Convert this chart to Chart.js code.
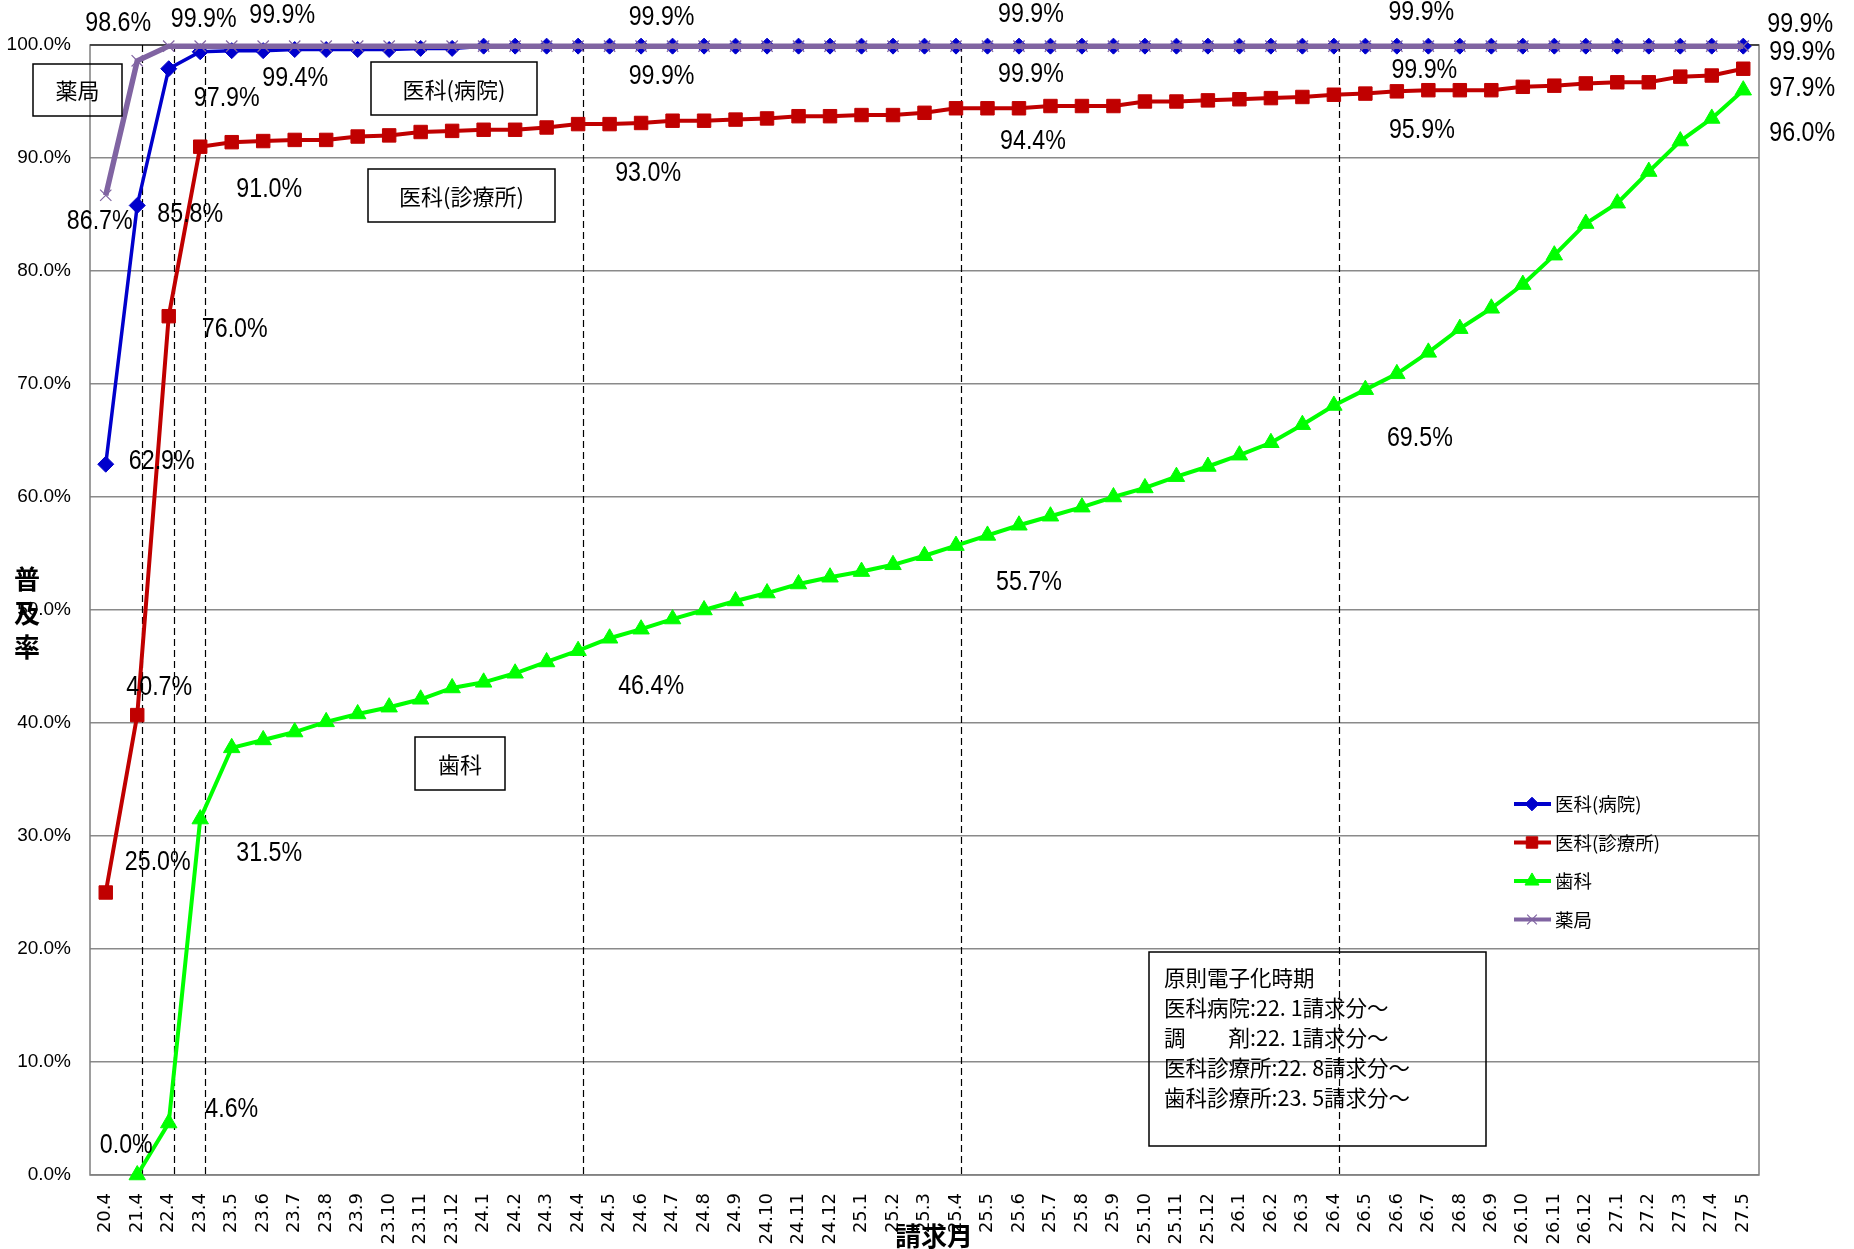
<!DOCTYPE html>
<html lang="ja">
<head>
<meta charset="UTF-8">
<title>レセプト電子化 普及率</title>
<script src="https://cdn.jsdelivr.net/npm/chart.js"></script>
<style>
  html, body { margin: 0; padding: 0; background: #fff; }
  #wrap { width: 1854px; height: 1249px; }
</style>
</head>
<body>
<div id="wrap"><canvas id="rateChart" width="1854" height="1249"></canvas></div>

<script>
// 請求月
const months = ['20.4', '21.4', '22.4', '23.4', '23.5', '23.6', '23.7', '23.8', '23.9', '23.10', '23.11', '23.12',
  '24.1', '24.2', '24.3', '24.4', '24.5', '24.6', '24.7', '24.8', '24.9', '24.10', '24.11', '24.12',
  '25.1', '25.2', '25.3', '25.4', '25.5', '25.6', '25.7', '25.8', '25.9', '25.10', '25.11', '25.12',
  '26.1', '26.2', '26.3', '26.4', '26.5', '26.6', '26.7', '26.8', '26.9', '26.10', '26.11', '26.12',
  '27.1', '27.2', '27.3', '27.4', '27.5'];

// 普及率（%）
const hospital = [62.9, 85.8, 97.9, 99.4, 99.5, 99.5, 99.6, 99.6, 99.6, 99.6, 99.7, 99.7,
  99.9, 99.9, 99.9, 99.9, 99.9, 99.9, 99.9, 99.9, 99.9, 99.9, 99.9, 99.9,
  99.9, 99.9, 99.9, 99.9, 99.9, 99.9, 99.9, 99.9, 99.9, 99.9, 99.9, 99.9,
  99.9, 99.9, 99.9, 99.9, 99.9, 99.9, 99.9, 99.9, 99.9, 99.9, 99.9, 99.9,
  99.9, 99.9, 99.9, 99.9, 99.9];
const clinic = [25.0, 40.7, 76.0, 91.0, 91.4, 91.5, 91.6, 91.6, 91.9, 92.0, 92.3, 92.4,
  92.5, 92.5, 92.7, 93.0, 93.0, 93.1, 93.3, 93.3, 93.4, 93.5, 93.7, 93.7,
  93.8, 93.8, 94.0, 94.4, 94.4, 94.4, 94.6, 94.6, 94.6, 95.0, 95.0, 95.1,
  95.2, 95.3, 95.4, 95.6, 95.7, 95.9, 96.0, 96.0, 96.0, 96.3, 96.4, 96.6,
  96.7, 96.7, 97.2, 97.3, 97.9];
const dental = [null, 0.0, 4.6, 31.5, 37.8, 38.5, 39.2, 40.1, 40.8, 41.4, 42.1, 43.1,
  43.6, 44.4, 45.4, 46.4, 47.5, 48.3, 49.2, 50.0, 50.8, 51.5, 52.3, 52.9,
  53.4, 54.0, 54.8, 55.7, 56.6, 57.5, 58.3, 59.1, 60.0, 60.8, 61.8, 62.7,
  63.7, 64.8, 66.4, 68.1, 69.5, 70.9, 72.8, 74.9, 76.7, 78.8, 81.4, 84.2,
  86.0, 88.8, 91.5, 93.5, 96.0];
const pharmacy = [86.7, 98.6, 99.9, 99.9, 99.9, 99.9, 99.9, 99.9, 99.9, 99.9, 99.9, 99.9,
  99.9, 99.9, 99.9, 99.9, 99.9, 99.9, 99.9, 99.9, 99.9, 99.9, 99.9, 99.9,
  99.9, 99.9, 99.9, 99.9, 99.9, 99.9, 99.9, 99.9, 99.9, 99.9, 99.9, 99.9,
  99.9, 99.9, 99.9, 99.9, 99.9, 99.9, 99.9, 99.9, 99.9, 99.9, 99.9, 99.9,
  99.9, 99.9, 99.9, 99.9, 99.9];

// グラフ上の数値ラベル
const hospitalTags = ['62.9%', '85.8%', '97.9%', '99.4%', '99.9%', '99.9%', '99.9%', '99.9%'];
const clinicTags = ['25.0%', '40.7%', '76.0%', '91.0%', '93.0%', '94.4%', '95.9%', '97.9%'];
const dentalTags = ['0.0%', '4.6%', '31.5%', '46.4%', '55.7%', '69.5%', '96.0%'];
const pharmacyTags = ['86.7%', '98.6%', '99.9%', '99.9%', '99.9%', '99.9%', '99.9%', '99.9%'];

// 点線を引く月
const markMonths = ['21.4', '22.4', '23.4', '24.4', '25.4', '26.4'];

const numFont = "'Liberation Sans', sans-serif";
const jpFont = "'Noto Sans CJK JP', sans-serif";

// 横に詰めた文字
function narrowText(ctx, t, x, y, sx) {
    ctx.save();
    ctx.translate(x, y);
    ctx.scale(sx, 1);
    ctx.fillText(t, 0, 0);
    ctx.restore();
}

// 点線・ラベル・凡例など
const extras = {
    id: 'extras',
    beforeDatasetsDraw(chart) {
        const { ctx, chartArea: a, scales: { x } } = chart;
        ctx.save();
        ctx.strokeStyle = '#7f7f7f';
        ctx.lineWidth = 1.5;
        ctx.strokeRect(a.left, a.top, a.right - a.left, a.bottom - a.top);
        ctx.strokeStyle = '#333';
        ctx.beginPath();
        ctx.moveTo(a.left, a.top);
        ctx.lineTo(a.right, a.top);
        ctx.stroke();
        ctx.strokeStyle = '#000';
        ctx.lineWidth = 1.2;
        ctx.setLineDash([7, 4]);
        markMonths.forEach(m => {
            const px = Math.round(x.getPixelForValue(months.indexOf(m))) + 5.5;
            ctx.beginPath();
            ctx.moveTo(px, a.top);
            ctx.lineTo(px, a.bottom);
            ctx.stroke();
        });
        ctx.restore();
    },
    afterDatasetsDraw(chart) {
        const ctx = chart.ctx;
        ctx.save();

        // 数値ラベル [点, dx, dy]
        const tagSets = [
            { ds: 0, tags: hospitalTags, spots: [[0, 56, -3], [1, 53, 9], [2, 58, 30], [5, 32, 28], [18, -11, 30], [29, 12, 28], [42, -4, 24], [52, 59, 6]] },
            { ds: 1, tags: clinicTags, spots: [[0, 52, -30], [1, 22, -28], [2, 66, 13], [3, 69, 43], [15, 70, 49], [27, 77, 33], [39, 88, 36], [52, 59, 20]] },
            { ds: 2, tags: dentalTags, spots: [[1, -11, -29], [2, 63, -13], [3, 69, 34], [15, 73, 36], [27, 73, 37], [39, 86, 33], [52, 59, 43]] },
            { ds: 3, tags: pharmacyTags, spots: [[0, -6, 26], [1, -19, -37], [2, 35, -27], [5, 19, -31], [18, -11, -29], [29, 12, -32], [42, -7, -34], [52, 57, -22]] }
        ];
        ctx.fillStyle = '#000';
        ctx.font = '27px ' + numFont;
        ctx.textAlign = 'center';
        ctx.textBaseline = 'middle';
        tagSets.forEach(s => {
            const meta = chart.getDatasetMeta(s.ds);
            s.spots.forEach(([i, dx, dy], k) => {
                const p = meta.data[i];
                narrowText(ctx, s.tags[k], p.x + dx, p.y + dy, 0.86);
            });
        });

        // 系列名の枠
        const boxes = [
            ['薬局', 33, 64, 89, 52],
            ['医科(病院)', 371, 62, 166, 53],
            ['医科(診療所)', 368, 169, 187, 53],
            ['歯科', 415, 737, 90, 53]
        ];
        ctx.strokeStyle = '#000';
        ctx.lineWidth = 1.5;
        ctx.font = '22px ' + jpFont;
        boxes.forEach(([t, bx, by, bw, bh]) => {
            ctx.strokeRect(bx, by, bw, bh);
            ctx.fillText(t, bx + bw / 2, by + bh / 2 + 1);
        });

        // 原則電子化時期
        ctx.strokeRect(1149, 952, 337, 194);
        ctx.textAlign = 'left';
        ctx.font = '21.5px ' + jpFont;
        ['原則電子化時期', '医科病院:22. 1請求分～', '調　　剤:22. 1請求分～',
         '医科診療所:22. 8請求分～', '歯科診療所:23. 5請求分～'].forEach((t, k) => {
            ctx.fillText(t, 1164, 978 + k * 30);
        });

        // 凡例
        ctx.font = '18.5px ' + jpFont;
        chart.data.datasets.forEach((d, k) => {
            const ly = 804 + k * 38.5;
            ctx.strokeStyle = d.borderColor;
            ctx.fillStyle = d.backgroundColor;
            ctx.lineWidth = 4;
            ctx.beginPath();
            ctx.moveTo(1514, ly);
            ctx.lineTo(1551, ly);
            ctx.stroke();
            ctx.lineWidth = d.pointBorderWidth;
            Chart.helpers.drawPoint(ctx, { pointStyle: d.pointStyle, radius: d.pointRadius * 0.85, borderWidth: d.pointBorderWidth, rotation: 0 }, 1532, ly);
            ctx.fillStyle = '#000';
            ctx.fillText(d.label, 1555, ly);
        });

        // 軸タイトル
        ctx.textAlign = 'center';
        ctx.font = 'bold 26px ' + jpFont;
        ['普', '及', '率'].forEach((c, k) => ctx.fillText(c, 27, 579 + k * 34));
        ctx.fillText('請求月', 934, 1236);
        ctx.restore();
    }
};

new Chart(document.getElementById('rateChart'), {
    type: 'line',
    data: {
        labels: months,
        datasets: [
            { label: '医科(病院)', data: hospital, borderColor: '#0000CC', backgroundColor: '#0000CC', borderWidth: 3.5,
              pointStyle: 'rectRot', pointRadius: 8, pointBorderWidth: 1, order: 1 },
            { label: '医科(診療所)', data: clinic, borderColor: '#C00000', backgroundColor: '#C00000', borderWidth: 4,
              pointStyle: 'rect', pointRadius: 9.5, pointBorderWidth: 1, order: 2 },
            { label: '歯科', data: dental, borderColor: '#00FF00', backgroundColor: '#00FF00', borderWidth: 4,
              pointStyle: 'triangle', pointRadius: 9.5, pointBorderWidth: 1, order: 3 },
            { label: '薬局', data: pharmacy, borderColor: '#8064A2', backgroundColor: '#8064A2', borderWidth: 5.5,
              pointStyle: 'crossRot', pointRadius: 8, pointBorderWidth: 1.2, order: 0 }
        ]
    },
    options: {
        responsive: false,
        animation: false,
        clip: false,
        layout: { padding: { top: 45, right: 95, bottom: 0, left: 0 } },
        elements: { line: { tension: 0 } },
        plugins: { legend: { display: false }, tooltip: { enabled: false } },
        scales: {
            x: {
                offset: true,
                grid: { display: false },
                border: { display: false },
                ticks: { autoSkip: false, maxRotation: 90, minRotation: 90, padding: 10, color: '#000',
                         font: { family: "'DejaVu Sans', sans-serif", size: 18 } },
                afterFit(s) { s.height = 74; }
            },
            y: {
                min: 0,
                max: 100,
                grid: { color: '#8a8a8a', lineWidth: 1.5, drawTicks: false },
                border: { display: false },
                ticks: { stepSize: 10, padding: 19, color: '#000', font: { family: numFont, size: 19 },
                         callback: v => v.toFixed(1) + '%' },
                afterFit(s) { s.width = 90; }
            }
        }
    },
    plugins: [extras]
});
</script>
</body>
</html>
